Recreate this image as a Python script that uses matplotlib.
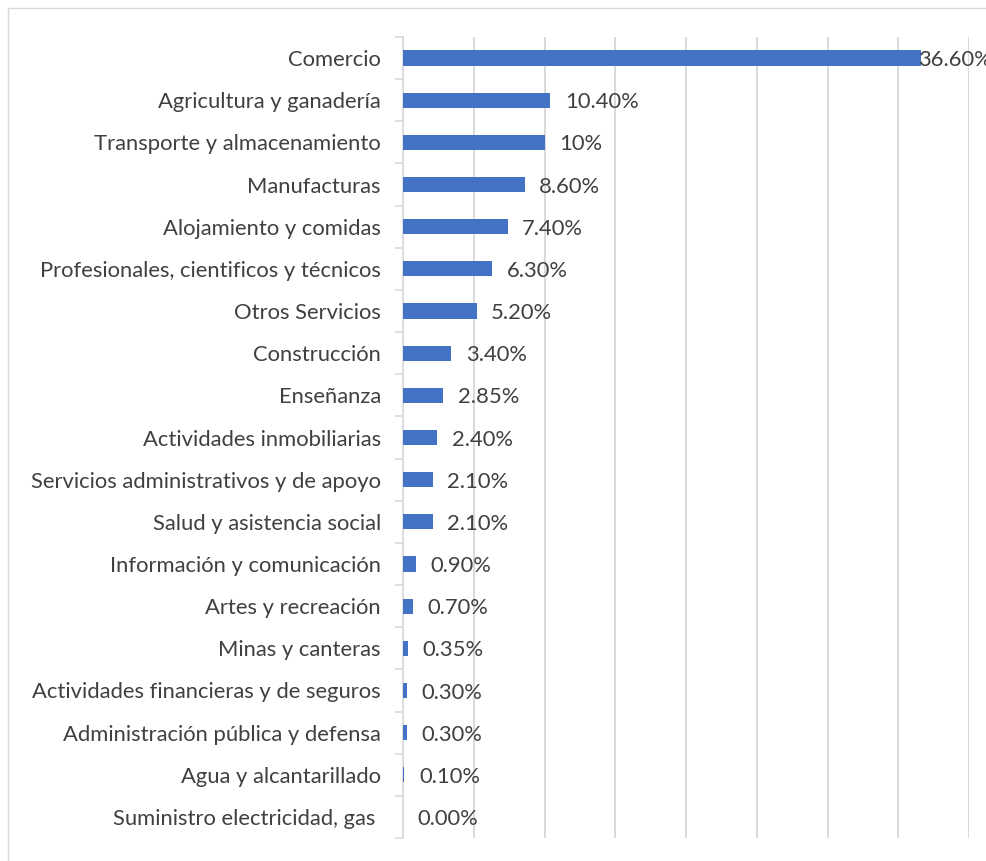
import matplotlib
matplotlib.use("Agg")
import matplotlib.pyplot as plt
from matplotlib.patches import Rectangle
import numpy as np

categories = [
    "Comercio",
    "Agricultura y ganadería",
    "Transporte y almacenamiento",
    "Manufacturas",
    "Alojamiento y comidas",
    "Profesionales, cientificos y técnicos",
    "Otros Servicios",
    "Construcción",
    "Enseñanza",
    "Actividades inmobiliarias",
    "Servicios administrativos y de apoyo",
    "Salud y asistencia social",
    "Información y comunicación",
    "Artes y recreación",
    "Minas y canteras",
    "Actividades financieras y de seguros",
    "Administración pública y defensa",
    "Agua y alcantarillado",
    "Suministro electricidad, gas ",
]
values = [36.6, 10.4, 10.0, 8.6, 7.4, 6.3, 5.2, 3.4, 2.85, 2.4, 2.1, 2.1,
          0.9, 0.7, 0.35, 0.3, 0.3, 0.1, 0.0]
value_labels = ["36.60%", "10.40%", "10%", "8.60%", "7.40%", "6.30%", "5.20%",
                "3.40%", "2.85%", "2.40%", "2.10%", "2.10%", "0.90%", "0.70%",
                "0.35%", "0.30%", "0.30%", "0.10%", "0.00%"]

plt.rcParams["font.family"] = ["Lato", "DejaVu Sans"]
TEXT = "#404040"
GRID = "#d9d9d9"
FS = 15.8

fig = plt.figure(figsize=(9.87, 8.61), dpi=100)
# chart area border (Excel style)
fig.patches.append(Rectangle((8 / 987, -0.1), 1.2, 1.1 - 8 / 861,
                             transform=fig.transFigure, fill=False,
                             edgecolor=GRID, linewidth=1.0))

ax = fig.add_axes([403 / 987, 1 - 838 / 861, 566 / 987, 801 / 861])
y = np.arange(len(categories))
ax.barh(y, values, height=0.36, color="#4472C4", zorder=5)

ax.set_xlim(0, 40)
ax.set_ylim(len(categories) - 0.5, -0.5)
ax.set_xticks(np.arange(0, 41, 5))
ax.xaxis.grid(True, color=GRID, linewidth=1.4, zorder=0)
ax.tick_params(axis="x", length=0, labelbottom=False)

ax.set_yticks(y)
ax.set_yticklabels(categories, fontsize=FS, color=TEXT)
ax.tick_params(axis="y", which="major", length=0, pad=16)
ax.set_yticks(np.arange(-0.5, len(categories), 1), minor=True)
ax.tick_params(axis="y", which="minor", length=5.5, width=1.2, color=GRID)

for s in ["top", "right", "bottom"]:
    ax.spines[s].set_visible(False)
ax.spines["left"].set_color(GRID)
ax.spines["left"].set_linewidth(1.2)
ax.spines["left"].set_zorder(4)

for yi, v, lab in zip(y, values, value_labels):
    off = -2 if v == max(values) else 10.5
    ax.annotate(lab, (v, yi), xytext=(off, -1.5), textcoords="offset points",
                va="center", ha="left", fontsize=FS, color=TEXT,
                annotation_clip=False, zorder=6)

fig.savefig("out.png", dpi=100)
